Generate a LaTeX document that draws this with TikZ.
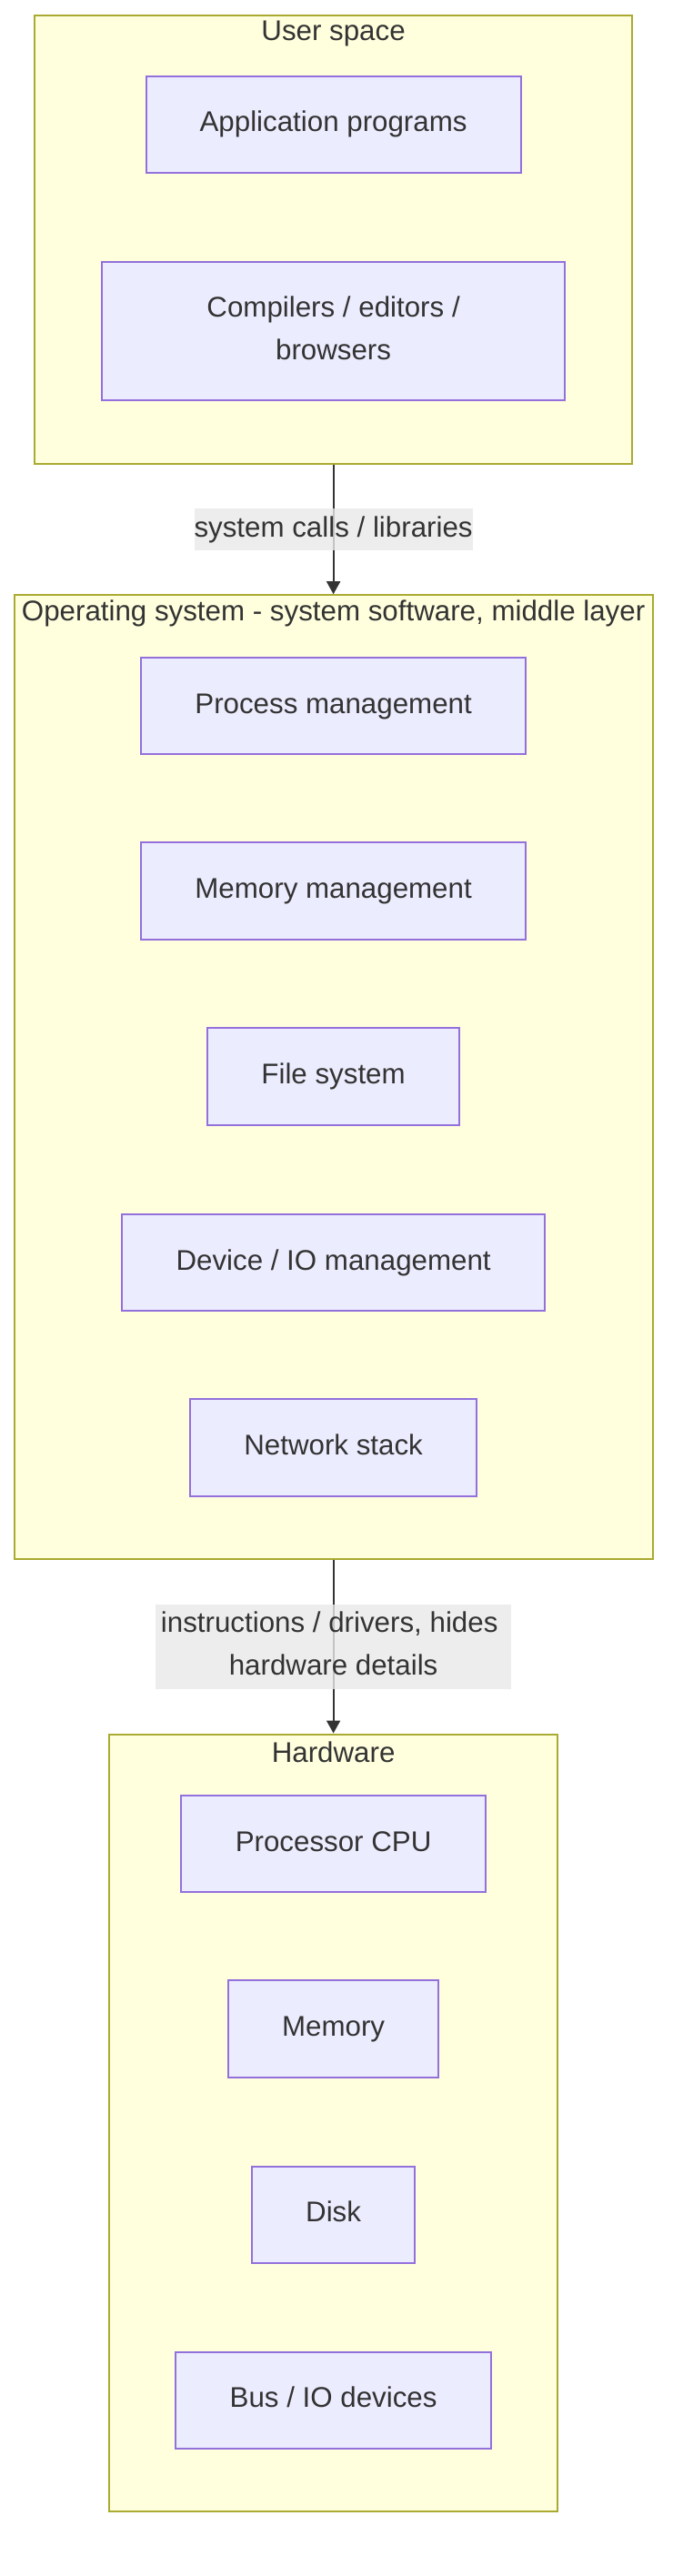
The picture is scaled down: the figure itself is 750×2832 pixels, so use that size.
\documentclass[tikz,border=0pt]{standalone}
\usepackage{fontspec}
\setmainfont{Liberation Sans}
\usetikzlibrary{arrows.meta}
\definecolor{clusterfill}{HTML}{FFFFDE}
\definecolor{clusterline}{HTML}{AAAA33}
\definecolor{boxfill}{HTML}{ECECFF}
\definecolor{boxline}{HTML}{9370DB}
\definecolor{edgeline}{HTML}{333333}
\definecolor{labelfill}{HTML}{E8E8E8}

\begin{document}
\begin{tikzpicture}[x=1pt, y=-1pt, line width=2pt,
    every node/.style={font=\fontsize{31.3}{47}\selectfont, text=edgeline, inner sep=0pt},
    cluster/.style={draw=clusterline, fill=clusterfill, anchor=north},
    box/.style={draw=boxline, fill=boxfill, minimum height=106.3pt, text height=24pt, text depth=8pt},
    edgelabel/.style={fill=labelfill, fill opacity=0.8, text opacity=1, text height=24pt, text depth=8pt, inner ysep=7.2pt},
    flow/.style={draw=edgeline, -{Triangle[width=15pt, length=14pt]}}]
    \useasboundingbox (0,0) rectangle (750,2832);
    % the three layers
    \node[cluster, minimum width=656.9pt, minimum height=493.6pt] (user) at (366.6,15.6) {};
    \node[cluster, minimum width=702.2pt, minimum height=1060.1pt] (os) at (366.6,653.2) {};
    \node[cluster, minimum width=493.5pt, minimum height=854.7pt] (hw) at (366.6,1905.5) {};
    \node (usertitle) at (366.6,36.6) {User space};
    \node (ostitle) at (366.6,674.2) {Operating system - system software, middle layer};
    \node (hwtitle) at (366.6,1926.6) {Hardware};
    % user space
    \node[box, minimum width=411.8pt] (app) at (366.6,136.9) {Application programs};
    \node[box, minimum width=509.7pt, minimum height=152.9pt, align=center, text height=71pt] (tools)
        at (366.6,364) {Compilers / editors /\\browsers};
    % kernel parts
    \foreach \name/\w/\y/\txt in {proc/423.2/776/{Process management},
            mem/423.2/979.6/{Memory management}, fs/276.6/1183.5/{File system},
            dev/464.4/1388/{Device / IO management}, net/314.8/1591.4/{Network stack}}{
            \node[box, minimum width=\w pt] (\name) at (366.6,\y) {\txt};
        }
    % hardware parts
    \foreach \name/\w/\y/\txt in {cpu/334.4/2027.2/{Processor CPU},
            ram/231.7/2230.5/{Memory}, disk/179.6/2434.9/{Disk},
            bus/346.8/2638.7/{Bus / IO devices}}{
            \node[box, minimum width=\w pt] (\name) at (366.6,\y) {\txt};
        }
    \draw[flow] (user.south) -- node[edgelabel] (calls) {system calls / libraries} (os.north);
    \draw[flow] (os.south) -- node[edgelabel, minimum width=391.3pt, align=center, text height=71pt] (drivers)
        {instructions / drivers, hides\hspace*{0.28em}\\hardware details} (hw.north);
\end{tikzpicture}
\end{document}
